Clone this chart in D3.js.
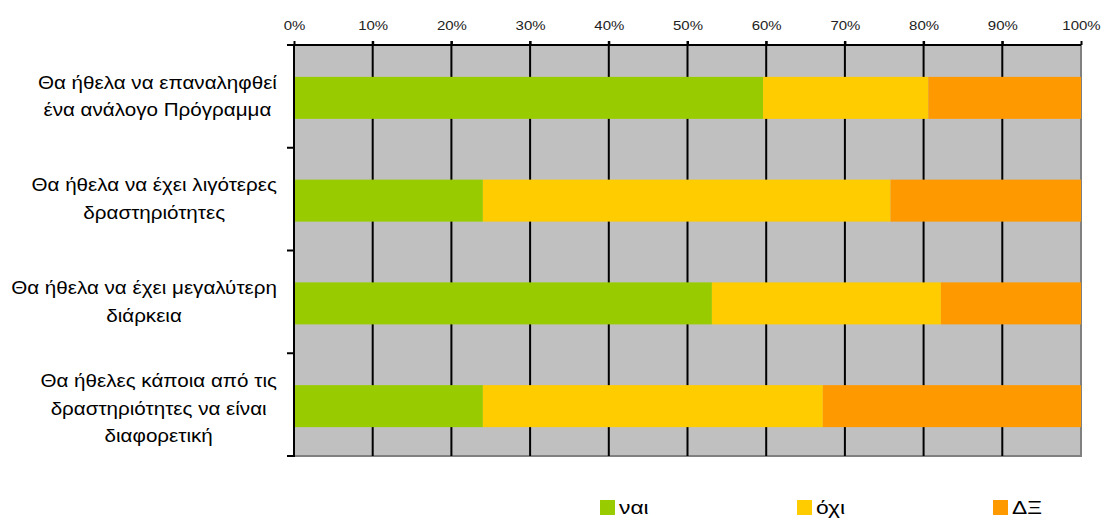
<!DOCTYPE html>
<html>
<head>
<meta charset="utf-8">
<script src="https://cdn.jsdelivr.net/npm/d3@7"></script>
<style>
  html, body { margin: 0; padding: 0; background: #fff; }
  svg { display: block; }
  text { font-family: "Liberation Sans", Arial, sans-serif; }
</style>
</head>
<body>
<svg id="chart" width="1102" height="519"></svg>
<script>
// Survey answers per statement (percent of respondents)
const categories = [
  ["Θα ήθελα να επαναληφθεί", "ένα ανάλογο Πρόγραμμα"],
  ["Θα ήθελα να έχει λιγότερες", "δραστηριότητες"],
  ["Θα ήθελα να έχει μεγαλύτερη", "διάρκεια"],
  ["Θα ήθελες κάποια από τις", "δραστηριότητες να είναι", "διαφορετική"]
];
const seriesNames = ["ναι", "όχι", "ΔΞ"];
const yesValues = [59.6, 24.0, 53.1, 24.0];
const noValues  = [21.0, 51.8, 29.1, 43.2];
const dkValues  = [19.4, 24.2, 17.8, 32.8];
const tickValues = [0, 10, 20, 30, 40, 50, 60, 70, 80, 90, 100];
const colors = ["#99cc00", "#ffcc00", "#ff9900"];

(function draw() {
  const svg = d3.select("#chart");
  const mLeft = 294, mRight = 1081, mTop = 45, mBottom = 456;
  const stretch = 1.146; // horizontal widening of the lettering
  const labelRight = 277; // right edge of the category label blocks

  const x = d3.scaleLinear().domain([0, 100]).range([mLeft, mRight]);
  const y = d3.scaleBand().domain(d3.range(categories.length)).range([mTop, mBottom]);
  const barH = 42;

  // plot background
  svg.append("rect")
    .attr("x", mLeft).attr("y", mTop)
    .attr("width", mRight - mLeft).attr("height", mBottom - mTop)
    .attr("fill", "#c0c0c0");

  // right and bottom frame
  svg.append("path")
    .attr("d", `M${mRight},${mTop}V${mBottom}H${mLeft}`)
    .attr("fill", "none").attr("stroke", "#808080").attr("stroke-width", 2);

  // vertical gridlines
  svg.append("g").selectAll("line")
    .data(tickValues.slice(1, -1))
    .join("line")
    .attr("x1", d => x(d)).attr("x2", d => x(d))
    .attr("y1", mTop - 4).attr("y2", mBottom)
    .attr("stroke", "#000").attr("stroke-width", 2);

  // stacked bars
  const rows = categories.map((c, i) => [yesValues[i], noValues[i], dkValues[i]]);
  const barsG = svg.append("g");
  rows.forEach((vals, i) => {
    let acc = 0;
    vals.forEach((v, j) => {
      barsG.append("rect")
        .attr("x", x(acc))
        .attr("y", y(i) + (y.bandwidth() - barH) / 2 + 1.5)
        .attr("width", x(acc + v) - x(acc))
        .attr("height", barH)
        .attr("fill", colors[j]);
      acc += v;
    });
  });

  // top axis
  const xAxis = d3.axisTop(x)
    .tickValues(tickValues)
    .tickFormat(d => d + "%")
    .tickSize(4)
    .tickPadding(11);
  const gx = svg.append("g")
    .attr("transform", `translate(0,${mTop})`)
    .call(xAxis);
  gx.select(".domain").attr("stroke", "#000").attr("stroke-width", 2)
    .attr("d", `M${mLeft - 1},0H${mRight}`);
  gx.selectAll(".tick line").attr("stroke", "#000").attr("stroke-width", 2);
  gx.selectAll(".tick text")
    .attr("font-size", 12.5).attr("fill", "#222")
    .attr("font-family", "'Liberation Sans', Arial, sans-serif")
    .attr("transform", "scale(1.2,1)");

  // left axis with ticks at band boundaries
  svg.append("line")
    .attr("x1", mLeft).attr("x2", mLeft)
    .attr("y1", mTop - 1).attr("y2", mBottom + 1)
    .attr("stroke", "#000").attr("stroke-width", 2);
  const bounds = d3.range(categories.length + 1).map(i => mTop + i * y.step());
  svg.append("g").selectAll("line")
    .data(bounds)
    .join("line")
    .attr("x1", mLeft - 7).attr("x2", mLeft)
    .attr("y1", d => d).attr("y2", d => d)
    .attr("stroke", "#000").attr("stroke-width", 2);

  // category labels: each block is right-aligned, its lines centred within it
  const lineH = 27.5;
  const labelG = svg.append("g");
  categories.forEach((lines, i) => {
    const cy = y(i) + y.bandwidth() / 2;
    const t = labelG.append("text")
      .attr("text-anchor", "middle")
      .attr("font-size", 18)
      .attr("fill", "#000");
    const spans = lines.map((ln, k) => t.append("tspan")
      .attr("x", 0)
      .attr("y", cy - (lines.length - 1) / 2 * lineH + k * lineH + 6 + (lines.length > 2 ? 4 : 0))
      .text(ln));
    const maxW = d3.max(spans, s => s.node().getComputedTextLength()) * stretch;
    t.attr("transform", `translate(${labelRight - maxW / 2},0) scale(${stretch},1)`);
  });

  // legend
  const legendX = [600, 797, 993];
  const lg = svg.append("g");
  seriesNames.forEach((name, j) => {
    lg.append("rect")
      .attr("x", legendX[j]).attr("y", 500)
      .attr("width", 15).attr("height", 15)
      .attr("fill", colors[j]);
    lg.append("text")
      .attr("transform", `translate(${legendX[j] + 19},514) scale(1.2,1)`)
      .attr("font-size", 19).attr("fill", "#000")
      .text(name);
  });
})();
</script>
</body>
</html>
